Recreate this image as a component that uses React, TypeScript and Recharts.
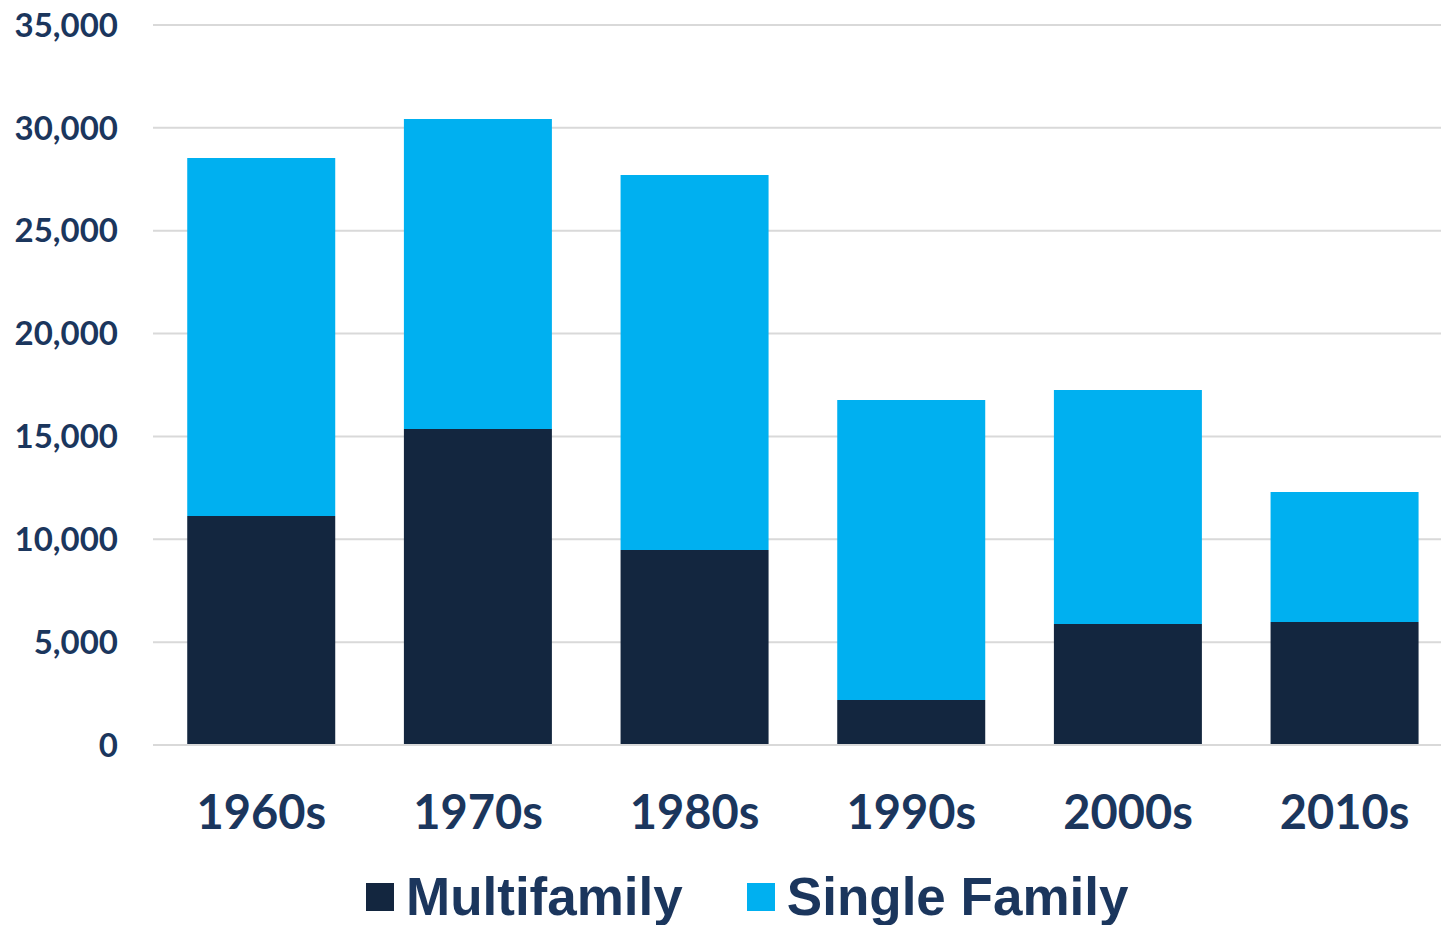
import { BarChart, Bar, XAxis, YAxis, CartesianGrid } from 'recharts';

const decades = ['1960s', '1970s', '1980s', '1990s', '2000s', '2010s'];
const multifamily = [11130, 15360, 9480, 2190, 5880, 5980];
const singleFamily = [17400, 15070, 18230, 14580, 11380, 6320];
const yTicks = [0, 5000, 10000, 15000, 20000, 25000, 30000, 35000];

const NAVY = '#13263F';
const CYAN = '#00B0F0';
const TEXT = '#1B365D';

const data = decades.map((d, i) => ({
  decade: d,
  multi: multifamily[i],
  single: singleFamily[i],
}));

const legendItems = [
  { label: 'Multifamily', color: NAVY },
  { label: 'Single Family', color: CYAN },
];

function ChartLegend() {
  return (
    <div
      style={{
        position: 'absolute',
        top: 870,
        left: 366,
        display: 'flex',
        alignItems: 'center',
        gap: 64,
      }}
    >
      {legendItems.map((it) => (
        <div key={it.label} style={{ display: 'flex', alignItems: 'center' }}>
          <span style={{ display: 'inline-block', width: 28, height: 28, background: it.color, marginRight: 12 }} />
          <span
            style={{
              fontFamily: '"Liberation Sans", Arial, sans-serif',
              fontWeight: 700,
              fontSize: 53,
              color: TEXT,
              lineHeight: 1,
            }}
          >
            {it.label}
          </span>
        </div>
      ))}
    </div>
  );
}

export default function App() {
  return (
    <div
      style={{
        position: 'fixed',
        left: 0,
        top: 0,
        width: 1441,
        height: 925,
        overflow: 'hidden',
        background: '#fff',
      }}
    >
      <BarChart
        width={1453}
        height={925}
        data={data}
        margin={{ top: 25, right: 0, left: 0, bottom: 0 }}
        barCategoryGap="15.8%"
      >
        <CartesianGrid vertical={false} stroke="#d9d9d9" strokeWidth={2} />
        <XAxis
          dataKey="decade"
          axisLine={{ stroke: '#d9d9d9', strokeWidth: 2 }}
          tickLine={false}
          tickSize={0}
          tickMargin={51}
          height={180}
          tick={{ fill: TEXT, fontSize: 47, fontWeight: 700, fontFamily: 'Lato, sans-serif' }}
        />
        <YAxis
          width={153}
          domain={[0, 35000]}
          ticks={yTicks}
          axisLine={false}
          tickLine={false}
          tickSize={0}
          tickMargin={35}
          tickFormatter={(v: number) => v.toLocaleString('en-US')}
          tick={{ fill: TEXT, fontSize: 33, fontWeight: 700, fontFamily: 'Lato, sans-serif' }}
        />
        <Bar dataKey="multi" name="Multifamily" stackId="a" fill={NAVY} isAnimationActive={false} />
        <Bar dataKey="single" name="Single Family" stackId="a" fill={CYAN} isAnimationActive={false} />
      </BarChart>
      <ChartLegend />
    </div>
  );
}
